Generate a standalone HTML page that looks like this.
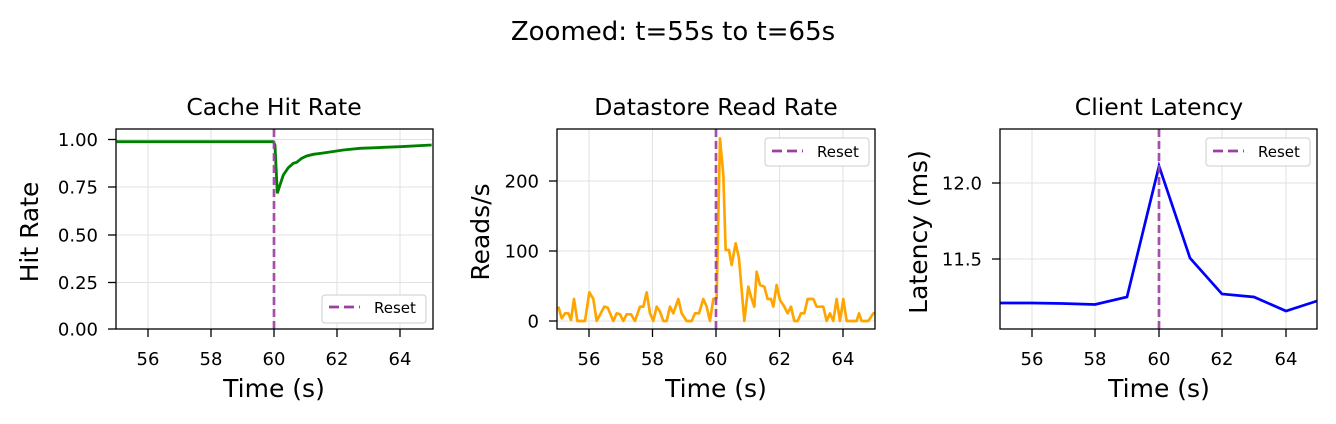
<!DOCTYPE html>
<html><head><meta charset="utf-8"><style>body{margin:0;background:#fff}svg{display:block}text{font-family:"DejaVu Sans","Liberation Sans",sans-serif;fill:#000}</style></head><body>
<svg width="1336" height="424" viewBox="0 0 1336 424">
<defs>
<clipPath id="c1"><rect x="116" y="129" width="317" height="200"/></clipPath>
<clipPath id="c2"><rect x="557" y="129" width="318" height="200"/></clipPath>
<clipPath id="c3"><rect x="1000" y="129" width="317" height="200"/></clipPath>
</defs>
<text x="673" y="40" font-size="26" text-anchor="middle">Zoomed: t=55s to t=65s</text>
<!-- Panel 1 -->
<text x="274" y="115" font-size="23.5" text-anchor="middle">Cache Hit Rate</text>
<g stroke="#e2e2e2" stroke-width="1">
<line x1="148" y1="129" x2="148" y2="329"/><line x1="211" y1="129" x2="211" y2="329"/><line x1="274" y1="129" x2="274" y2="329"/><line x1="337" y1="129" x2="337" y2="329"/><line x1="400" y1="129" x2="400" y2="329"/>
<line x1="116" y1="139.5" x2="433" y2="139.5"/><line x1="116" y1="187" x2="433" y2="187"/><line x1="116" y1="235" x2="433" y2="235"/><line x1="116" y1="282.5" x2="433" y2="282.5"/>
</g>
<g clip-path="url(#c1)"><g transform="translate(110,125) scale(0.3333)"><polyline fill="none" stroke="#008000" stroke-width="8.5" points="20,50 490,50 495,60 502,205 510,180 520,150 535,128 550,115 560,112 575,100 590,93 610,88 640,84 700,75 750,70 800,68 870,65 965,60"/></g></g>
<line x1="274" y1="129" x2="274" y2="329" stroke="#9b3fa0" stroke-opacity="0.9" stroke-width="2.7" stroke-dasharray="8,4"/>
<rect x="116" y="129" width="317" height="200" fill="none" stroke="#000" stroke-width="1.3"/>
<g font-size="18" text-anchor="end">
<text x="98" y="146">1.00</text><text x="98" y="193.5">0.75</text><text x="98" y="241.5">0.50</text><text x="98" y="289">0.25</text><text x="98" y="335.5">0.00</text></g>
<g stroke="#000" stroke-width="1.3"><line x1="108" y1="139.5" x2="116" y2="139.5"/><line x1="108" y1="187" x2="116" y2="187"/><line x1="108" y1="235" x2="116" y2="235"/><line x1="108" y1="282.5" x2="116" y2="282.5"/><line x1="108" y1="329" x2="116" y2="329"/>
<line x1="148" y1="329" x2="148" y2="337"/><line x1="211" y1="329" x2="211" y2="337"/><line x1="274" y1="329" x2="274" y2="337"/><line x1="337" y1="329" x2="337" y2="337"/><line x1="400" y1="329" x2="400" y2="337"/></g>
<g font-size="18" text-anchor="middle"><text x="148" y="365">56</text><text x="211" y="365">58</text><text x="274" y="365">60</text><text x="337" y="365">62</text><text x="400" y="365">64</text></g>
<text x="274" y="397" font-size="25" text-anchor="middle">Time (s)</text>
<text transform="translate(38,232) rotate(-90)" font-size="25" text-anchor="middle">Hit Rate</text>
<rect x="322" y="295" width="104" height="28" rx="3" fill="#fff" stroke="#ccc"/>
<line x1="329" y1="307" x2="360" y2="307" stroke="#9b3fa0" stroke-width="2.7" stroke-dasharray="10,5"/>
<text x="374" y="313" font-size="15">Reset</text>
<!-- Panel 2 -->
<text x="716" y="115" font-size="23.5" text-anchor="middle">Datastore Read Rate</text>
<g stroke="#e2e2e2" stroke-width="1">
<line x1="589" y1="129" x2="589" y2="329"/><line x1="652.5" y1="129" x2="652.5" y2="329"/><line x1="716" y1="129" x2="716" y2="329"/><line x1="779.5" y1="129" x2="779.5" y2="329"/><line x1="843" y1="129" x2="843" y2="329"/>
<line x1="557" y1="181" x2="875" y2="181"/><line x1="557" y1="251" x2="875" y2="251"/><line x1="557" y1="321" x2="875" y2="321"/></g>
<g clip-path="url(#c2)"><g transform="translate(555,125) scale(0.3333)"><polyline fill="none" stroke="#ffa500" stroke-width="8" stroke-linejoin="round" points="10,545 20,580 30,565 40,565 48,585 57,522 67,588 90,588 103,502 115,522 125,588 148,545 158,548 175,588 185,565 195,568 205,588 215,568 228,568 240,588 255,545 265,545 275,502 285,565 295,588 305,545 315,560 325,588 335,588 345,545 355,565 370,522 380,565 395,588 410,588 420,565 432,565 445,522 455,545 465,588 475,522 485,520 495,40 505,150 512,375 522,375 530,420 542,355 552,400 568,588 580,485 588,515 598,545 605,440 615,480 628,485 638,522 648,522 655,545 665,480 675,525 688,545 698,565 708,545 718,588 728,588 738,565 748,565 758,522 775,522 785,545 805,545 815,588 825,565 835,588 845,522 855,588 865,522 875,588 905,588 912,565 920,588 940,588 955,565 965,565"/></g></g>
<line x1="716" y1="129" x2="716" y2="329" stroke="#9b3fa0" stroke-opacity="0.9" stroke-width="2.7" stroke-dasharray="8,4"/>
<rect x="557" y="129" width="318" height="200" fill="none" stroke="#000" stroke-width="1.3"/>
<g font-size="18" text-anchor="end"><text x="539" y="187.5">200</text><text x="539" y="257.5">100</text><text x="539" y="327.5">0</text></g>
<g stroke="#000" stroke-width="1.3"><line x1="549" y1="181" x2="557" y2="181"/><line x1="549" y1="251" x2="557" y2="251"/><line x1="549" y1="321" x2="557" y2="321"/>
<line x1="589" y1="329" x2="589" y2="337"/><line x1="652.5" y1="329" x2="652.5" y2="337"/><line x1="716" y1="329" x2="716" y2="337"/><line x1="779.5" y1="329" x2="779.5" y2="337"/><line x1="843" y1="329" x2="843" y2="337"/></g>
<g font-size="18" text-anchor="middle"><text x="589" y="365">56</text><text x="652.5" y="365">58</text><text x="716" y="365">60</text><text x="779.5" y="365">62</text><text x="843" y="365">64</text></g>
<text x="716" y="397" font-size="25" text-anchor="middle">Time (s)</text>
<text transform="translate(489,232) rotate(-90)" font-size="25" text-anchor="middle">Reads/s</text>
<rect x="765" y="138" width="104" height="28" rx="3" fill="#fff" stroke="#ccc"/>
<line x1="772" y1="151" x2="803" y2="151" stroke="#9b3fa0" stroke-width="2.7" stroke-dasharray="10,5"/>
<text x="817" y="157" font-size="15">Reset</text>
<!-- Panel 3 -->
<text x="1159" y="115" font-size="23.5" text-anchor="middle">Client Latency</text>
<g stroke="#e2e2e2" stroke-width="1">
<line x1="1032" y1="129" x2="1032" y2="329"/><line x1="1095" y1="129" x2="1095" y2="329"/><line x1="1159" y1="129" x2="1159" y2="329"/><line x1="1222" y1="129" x2="1222" y2="329"/><line x1="1286" y1="129" x2="1286" y2="329"/>
<line x1="1000" y1="183" x2="1317" y2="183"/><line x1="1000" y1="259" x2="1317" y2="259"/></g>
<g clip-path="url(#c3)"><polyline fill="none" stroke="#0000ff" stroke-width="2.7" points="1000,303 1032,303 1063,303.5 1095,304.5 1127,297 1159,166 1190,258 1222,294 1254,297 1286,311 1317,301"/></g>
<line x1="1159" y1="129" x2="1159" y2="329" stroke="#9b3fa0" stroke-opacity="0.9" stroke-width="2.7" stroke-dasharray="8,4"/>
<rect x="1000" y="129" width="317" height="200" fill="none" stroke="#000" stroke-width="1.3"/>
<g font-size="18" text-anchor="end"><text x="982" y="189.5">12.0</text><text x="982" y="265.5">11.5</text></g>
<g stroke="#000" stroke-width="1.3"><line x1="992" y1="183" x2="1000" y2="183"/><line x1="992" y1="259" x2="1000" y2="259"/>
<line x1="1032" y1="329" x2="1032" y2="337"/><line x1="1095" y1="329" x2="1095" y2="337"/><line x1="1159" y1="329" x2="1159" y2="337"/><line x1="1222" y1="329" x2="1222" y2="337"/><line x1="1286" y1="329" x2="1286" y2="337"/></g>
<g font-size="18" text-anchor="middle"><text x="1032" y="365">56</text><text x="1095" y="365">58</text><text x="1159" y="365">60</text><text x="1222" y="365">62</text><text x="1286" y="365">64</text></g>
<text x="1159" y="397" font-size="25" text-anchor="middle">Time (s)</text>
<text transform="translate(927,232) rotate(-90)" font-size="25" text-anchor="middle">Latency (ms)</text>
<rect x="1206" y="138" width="104" height="28" rx="3" fill="#fff" stroke="#ccc"/>
<line x1="1213" y1="151" x2="1244" y2="151" stroke="#9b3fa0" stroke-width="2.7" stroke-dasharray="10,5"/>
<text x="1258" y="157" font-size="15">Reset</text>
</svg>
</body></html>
